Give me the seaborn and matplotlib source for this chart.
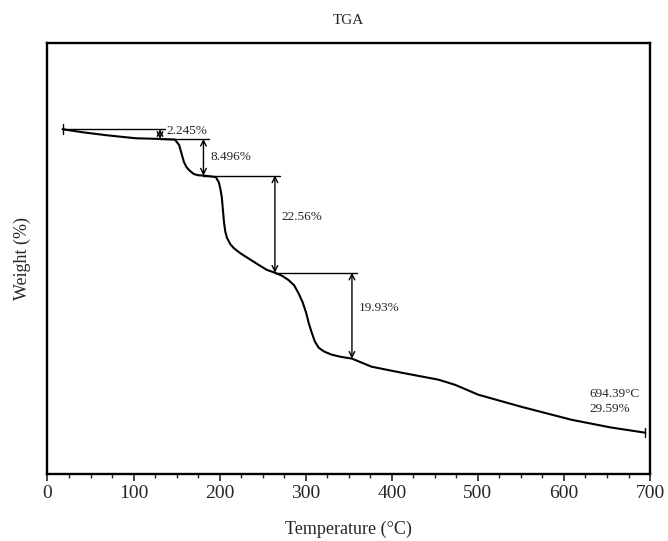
import numpy as np
import pandas as pd
import matplotlib
matplotlib.use("Agg")
import matplotlib.pyplot as plt
import seaborn as sns

# TGA curve
temp = [17.5, 40.5, 68.5, 102.5, 129.5, 148, 153, 155.5, 158.5, 161.5, 164.5, 170, 175.5, 181.2,
        195.5, 199, 201, 202.5, 205, 206.5, 208.5, 212.5, 216.5, 223.5, 230.5, 245.5, 254.5, 264.2,
        272.5, 280, 286.5, 291.5, 296.5, 300.5, 303.5, 307, 310.5, 315, 321.5, 330, 340.5, 353.7,
        376.5, 411.5, 454, 473.5, 500.5, 550.5, 608.5, 654.5, 694.39]
weight = [100, 99.3, 98.6, 97.9, 97.755, 97.6, 96.3, 94.5, 92.4, 91.2, 90.5, 89.6, 89.3, 89.26,
          88.9, 87.7, 86.0, 84.2, 78.5, 76.3, 74.8, 73.3, 72.4, 71.3, 70.4, 68.5, 67.4, 66.7,
          66.0, 65.0, 63.8, 62.0, 59.8, 57.4, 55.0, 52.8, 50.8, 49.3, 48.4, 47.7, 47.2, 46.77,
          44.9, 43.5, 41.9, 40.7, 38.4, 35.6, 32.6, 30.8, 29.59]

# step boundaries (temperature where the arrow sits, level before the step)
step_temp = [17.5, 130.7, 181.2, 264.2, 353.7]
step_weight = [100, 97.755, 89.259, 66.699, 46.769]
step_labels = ["2.245%", "8.496%", "22.56%", "19.93%"]
label_weight = [99.7, 93.6, 79.6, 58.6]

end_temp = 694.39
end_weight = 29.59

df = pd.DataFrame({"Temperature": temp, "Weight": weight})

sns.set_style("white")
plt.rcParams["font.family"] = ["Liberation Serif", "DejaVu Serif"]

fig = plt.figure(figsize=(6.68, 5.41), dpi=100)
ax = fig.add_axes([0.0711, 0.1238, 0.902, 0.7967])

sns.lineplot(data=df, x="Temperature", y="Weight", ax=ax, color="black",
             linewidth=1.5, estimator=None, sort=False)

# level lines and double arrows for each step
for i in range(len(step_labels)):
    t0, t1 = step_temp[i], step_temp[i + 1]
    w0, w1 = step_weight[i], step_weight[i + 1]
    ax.plot([t0, t1 + 6], [w0, w0], color="black", linewidth=1.0)
    ax.annotate("", xy=(t1, w1), xytext=(t1, w0),
                arrowprops=dict(arrowstyle="<->", color="black", lw=1.0,
                                shrinkA=0, shrinkB=0, mutation_scale=10))
    ax.text(t1 + 8, label_weight[i], step_labels[i],
            fontsize=9.5, va="center", ha="left")

# start / end tick marks
ax.plot([step_temp[0], step_temp[0]], [98.9, 101.1], color="black", linewidth=1.0)
ax.plot([end_temp, end_temp], [28.6, 30.6], color="black", linewidth=1.0)
ax.text(630, 36.8, "694.39°C\n29.59%", fontsize=9.5, va="center", ha="left",
        linespacing=1.4)

ax.set_xlim(0, 700)
ax.set_ylim(20, 120)
ax.set_xticks(np.arange(0, 701, 100))
ax.set_xticks(np.arange(0, 701, 25), minor=True)
ax.set_yticks([])
ax.tick_params(axis="x", which="major", direction="out", length=5, width=1.2,
               labelsize=14, bottom=True, pad=3)
ax.tick_params(axis="x", which="minor", direction="out", length=3, width=1.0,
               bottom=True)
for s in ax.spines.values():
    s.set_linewidth(1.7)
    s.set_color("black")

ax.set_xlabel("Temperature (°C)", fontsize=13, labelpad=13)
ax.set_ylabel("Weight (%)", fontsize=13, labelpad=12)
ax.set_title("TGA", fontsize=11, pad=14)

fig.savefig("out.png", dpi=100)
